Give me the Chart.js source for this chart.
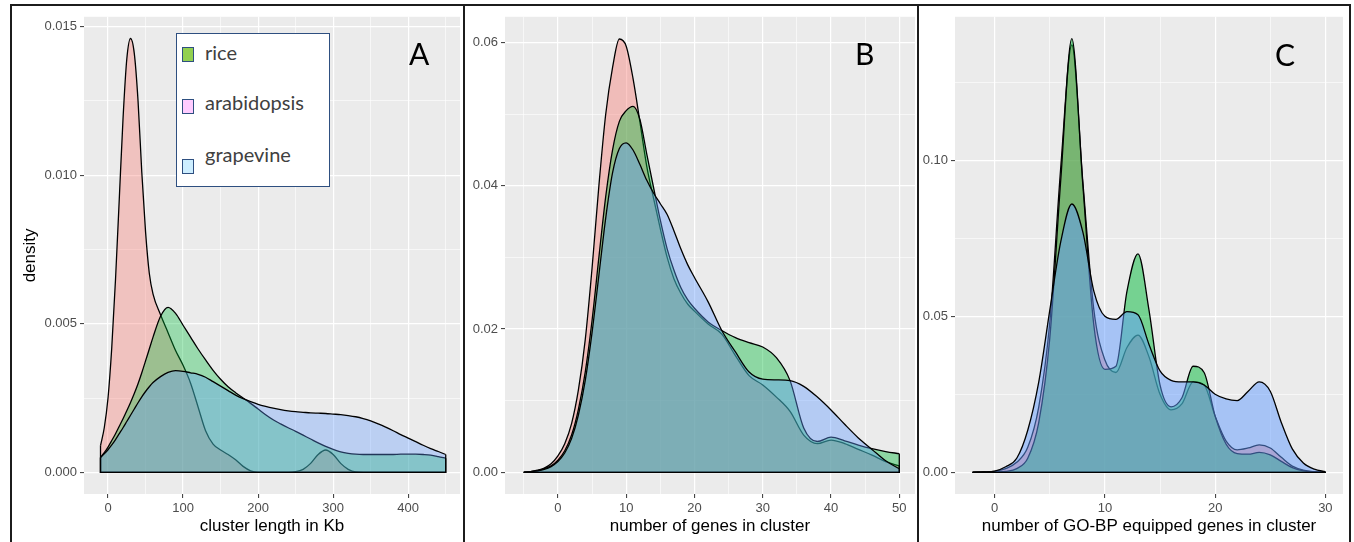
<!DOCTYPE html>
<html>
<head>
<meta charset="utf-8">
<script src="https://cdn.jsdelivr.net/npm/chart.js@4.4.1/dist/chart.umd.min.js"></script>
<style>
  body { margin: 0; width: 1354px; height: 542px; background: #fff; position: relative; overflow: hidden; }
  canvas { position: absolute; }
  .rule { position: absolute; background: #1c1c1c; }
  .letter { position: absolute; font-family: Lato, 'Open Sans', sans-serif; font-size: 30px; color: #000; line-height: 1; }
  #legend { position: absolute; left: 176px; top: 33px; width: 152px; height: 152px; border: 1.5px solid #2e4f80; background: #fff; font-family: Lato, 'Open Sans', sans-serif; font-size: 20px; color: #404040; }
  #legend .sw { position: absolute; left: 5px; width: 9.5px; height: 12.5px; border: 1.5px solid #2e4f80; }
  #legend .tx { position: absolute; left: 28px; line-height: 1; }
</style>
</head>
<body>
<div class="rule" style="left:10px;top:4px;width:1341px;height:2px"></div>
<div class="rule" style="left:10px;top:4px;width:2px;height:538px"></div>
<div class="rule" style="left:463px;top:4px;width:2px;height:538px"></div>
<div class="rule" style="left:917px;top:4px;width:2px;height:538px"></div>
<div class="rule" style="left:1349px;top:4px;width:2px;height:538px"></div>

<canvas id="chartA" width="450" height="536" style="left:12px;top:6px"></canvas>
<canvas id="chartB" width="450" height="536" style="left:466px;top:6px"></canvas>
<canvas id="chartC" width="430" height="536" style="left:920px;top:6px"></canvas>

<div id="legend">
  <div class="sw" style="top:13px;background:#92d050"></div><div class="tx" style="top:8px">rice</div>
  <div class="sw" style="top:65px;background:#ffccff"></div><div class="tx" style="top:58px">arabidopsis</div>
  <div class="sw" style="top:125px;background:#cdeeff"></div><div class="tx" style="top:110px">grapevine</div>
</div>
<div class="letter" style="left:409px;top:38px">A</div>
<div class="letter" style="left:855px;top:38px">B</div>
<div class="letter" style="left:1275px;top:39px">C</div>

<script>
// ---- panel A: cluster length in Kb ----
const xA = [-10, -5, 0, 5, 10, 15, 20, 25, 30, 35, 40, 45, 50, 55, 60,
  70, 80, 90, 100, 110, 120, 130, 140, 150, 160, 170, 180, 190, 200, 210, 220, 230, 240, 250,
  260, 270, 280, 290, 300, 310, 320, 330, 340, 350, 360, 370, 380, 390, 400, 410, 420, 430, 440, 450];
const arabidopsisA = [0.0009, 0.0015, 0.0025, 0.0042, 0.0065, 0.0092, 0.0119, 0.0139, 0.0146, 0.0141, 0.0125, 0.0101, 0.0081, 0.0067, 0.0060,
  0.0053, 0.0047, 0.0041, 0.0036, 0.0030, 0.0022, 0.0014, 0.00095, 0.00075, 0.0006, 0.00042, 0.0002, 0.00005, 0, 0, 0, 0, 0, 0.00002,
  0.0001, 0.0003, 0.0006, 0.00075, 0.0006, 0.0003, 0.0001, 0.00001, 0, 0, 0, 0, 0, 0, 0, 0, 0, 0, 0, 0];
const riceA = [0.0005, 0.00066, 0.00085, 0.00107, 0.0013, 0.00155, 0.0018, 0.00207, 0.00235, 0.00265, 0.00298, 0.00335, 0.00375, 0.00415, 0.00455,
  0.00525, 0.00555, 0.00535, 0.00495, 0.00455, 0.00415, 0.00378, 0.00343, 0.00313, 0.00288, 0.00268, 0.0025, 0.00232, 0.00213, 0.00194, 0.00177, 0.00163, 0.0015, 0.00138,
  0.00125, 0.00112, 0.00099, 0.00087, 0.00077, 0.00069, 0.00064, 0.00061, 0.0006, 0.0006, 0.0006, 0.0006, 0.0006, 0.00061, 0.00061, 0.00061, 0.0006, 0.00058, 0.00053, 0.00047];
const grapevineA = [0.0005, 0.00062, 0.00076, 0.00092, 0.0011, 0.0013, 0.0015, 0.00171, 0.00192, 0.00213, 0.00234, 0.00254, 0.00272, 0.00288, 0.00302,
  0.00322, 0.00336, 0.00342, 0.0034, 0.00335, 0.0033, 0.0032, 0.00305, 0.0029, 0.00275, 0.0026, 0.00248, 0.00238, 0.00229, 0.00222, 0.00216, 0.00211, 0.00207, 0.00204,
  0.00202, 0.002, 0.00199, 0.00198, 0.00196, 0.00194, 0.00191, 0.00187, 0.00181, 0.00173, 0.00163, 0.00152, 0.0014, 0.00127, 0.00115, 0.00103, 0.00091, 0.0008, 0.0007, 0.0006];

// ---- panel B: number of genes in cluster ----
const xB = [-5, -4, -3, -2, -1, 0, 1, 2, 3, 4, 5, 6, 7, 8, 9, 10, 11, 12, 13, 14, 15, 16, 17, 18, 19, 20,
  22, 24, 26, 28, 30, 32, 34, 36, 38, 40, 42, 44, 46, 48, 50];
const arabidopsisB = [0, 0.0001, 0.0003, 0.0006, 0.0012, 0.0023, 0.0040, 0.0068, 0.0115, 0.0185, 0.0285, 0.0400, 0.0500, 0.0565, 0.0605, 0.0595,
  0.0550, 0.0490, 0.0428, 0.0383, 0.0340, 0.0300, 0.0270, 0.0250, 0.0235, 0.0225,
  0.0207, 0.0193, 0.0163, 0.0135, 0.0122, 0.0105, 0.0085, 0.0052, 0.0040, 0.0045, 0.0040, 0.0032, 0.0024, 0.0015, 0.0009];
const riceB = [0, 0.0001, 0.0002, 0.0005, 0.0009, 0.0017, 0.0030, 0.0052, 0.0088, 0.0140, 0.0212, 0.0300, 0.0385, 0.0450, 0.0490, 0.0505,
  0.0511, 0.0493, 0.0445, 0.0398, 0.0352, 0.0312, 0.0282, 0.0258, 0.0241, 0.0229,
  0.0210, 0.0198, 0.0188, 0.0181, 0.0175, 0.0160, 0.0128, 0.0062, 0.0043, 0.0049, 0.0044, 0.0038, 0.0033, 0.0029, 0.0026];
const grapevineB = [0, 0.0001, 0.0002, 0.0004, 0.0008, 0.0015, 0.0027, 0.0047, 0.0080, 0.0128, 0.0195, 0.0275, 0.0355, 0.0418, 0.0452, 0.0460,
  0.0450, 0.0430, 0.0408, 0.0390, 0.0375, 0.0360, 0.0337, 0.0312, 0.0290, 0.0272,
  0.0238, 0.0198, 0.0168, 0.0140, 0.0130, 0.0129, 0.0128, 0.0120, 0.0105, 0.0087, 0.0067, 0.0048, 0.0032, 0.0016, 0.0005];

// ---- panel C: number of GO-BP equipped genes in cluster ----
const xC = [-2, -1, 0, 1, 2, 3, 4, 5, 6, 7, 8, 9, 10, 11, 12, 13, 14, 15, 16, 17, 18, 19, 20, 21, 22, 23, 24, 25, 26, 27, 28, 29, 30];
const arabidopsisC = [0, 0.0001, 0.0003, 0.0012, 0.0032, 0.008, 0.021, 0.048, 0.098, 0.137, 0.093, 0.052, 0.036, 0.032, 0.040, 0.044, 0.037, 0.025, 0.020, 0.022, 0.029, 0.028, 0.018, 0.010, 0.0072, 0.0078, 0.0088, 0.0078, 0.0048, 0.002, 0.0007, 0.0002, 0];
const riceC = [0, 0, 0.0001, 0.0003, 0.0012, 0.0045, 0.016, 0.043, 0.094, 0.139, 0.092, 0.047, 0.033, 0.034, 0.058, 0.070, 0.052, 0.028, 0.021, 0.024, 0.034, 0.032, 0.018, 0.009, 0.006, 0.0058, 0.0064, 0.0056, 0.0035, 0.0015, 0.0005, 0.0001, 0];
const grapevineC = [0, 0.0001, 0.0004, 0.0018, 0.0045, 0.0135, 0.029, 0.052, 0.074, 0.086, 0.077, 0.058, 0.050, 0.049, 0.0515, 0.0505, 0.041, 0.0325, 0.0295, 0.029, 0.029, 0.028, 0.025, 0.0235, 0.023, 0.026, 0.029, 0.026, 0.016, 0.0075, 0.003, 0.001, 0.0002];

// axis breaks (major carry labels, minor are grid only)
const xMajorA = [0, 100, 200, 300, 400], xMinorA = [50, 150, 250, 350, 450];
const yMajorA = [0, 0.005, 0.010, 0.015], yMinorA = [0.0025, 0.0075, 0.0125];
const xMajorB = [0, 10, 20, 30, 40, 50], xMinorB = [-5, 5, 15, 25, 35, 45];
const yMajorB = [0, 0.02, 0.04, 0.06], yMinorB = [0.01, 0.03, 0.05];
const xMajorC = [0, 10, 20, 30], xMinorC = [5, 15, 25];
const yMajorC = [0, 0.05, 0.10], yMinorC = [0.025, 0.075, 0.125];

const fillColors = ['248,118,109', '0,186,56', '97,156,255'];
const outlineWidth = 1.3;

// grey ggplot panel
const panelBg = {
  id: 'panelBg',
  beforeDraw(chart) {
    const a = chart.chartArea;
    chart.ctx.save();
    chart.ctx.fillStyle = '#ebebeb';
    chart.ctx.fillRect(a.left, a.top, a.right - a.left, a.bottom - a.top);
    chart.ctx.restore();
  }
};

// close each density polygon (ends + baseline) like geom_density
const closeOutline = {
  id: 'closeOutline',
  afterDatasetDraw(chart, args) {
    const pts = args.meta.data;
    if (!pts.length) return;
    const ctx = chart.ctx;
    const y0 = chart.scales.y.getPixelForValue(0);
    const first = pts[0], last = pts[pts.length - 1];
    ctx.save();
    ctx.strokeStyle = '#000';
    ctx.lineWidth = outlineWidth;
    ctx.beginPath();
    ctx.moveTo(first.x, first.y);
    ctx.lineTo(first.x, y0);
    ctx.lineTo(last.x, y0);
    ctx.lineTo(last.x, last.y);
    ctx.stroke();
    ctx.restore();
  }
};

function breaks(major, minor) {
  return function(scale) {
    scale.ticks = major.concat(minor).sort((a, b) => a - b).map(v => ({ value: v }));
  };
}

function axis(opts) {
  const isMajor = v => opts.major.includes(v);
  return {
    type: 'linear',
    min: opts.min,
    max: opts.max,
    afterBuildTicks: breaks(opts.major, opts.minor),
    afterFit: opts.fit,
    border: { display: false },
    grid: {
      color: '#ffffff',
      lineWidth: c => (c.tick && isMajor(c.tick.value)) ? 1.2 : 0.6,
      drawTicks: true,
      tickLength: 4,
      tickWidth: 1,
      tickColor: c => (c.tick && isMajor(c.tick.value)) ? '#333333' : 'rgba(0,0,0,0)'
    },
    ticks: {
      autoSkip: false,
      maxRotation: 0,
      padding: opts.pad,
      color: '#4d4d4d',
      font: { family: "'Liberation Sans', Arial, sans-serif", size: 13 },
      callback: v => isMajor(v) ? opts.fmt(v) : ''
    },
    title: opts.title ? {
      display: true,
      text: opts.title,
      color: '#000',
      font: { family: "'Liberation Sans', Arial, sans-serif", size: 17 },
      padding: opts.titlePad
    } : { display: false }
  };
}

function densityChart(id, xs, series, alpha, xOpts, yOpts, pad) {
  const names = ['arabidopsis', 'rice', 'grapevine'];
  new Chart(document.getElementById(id), {
    type: 'line',
    data: {
      datasets: series.map((ys, i) => ({
        label: names[i],
        data: xs.map((x, j) => ({ x: x, y: ys[j] })),
        order: 3 - i,
        fill: 'origin',
        backgroundColor: 'rgba(' + fillColors[i] + ',' + alpha + ')',
        borderColor: '#000',
        borderWidth: outlineWidth,
        pointRadius: 0,
        cubicInterpolationMode: 'monotone'
      }))
    },
    options: {
      responsive: false,
      animation: false,
      devicePixelRatio: 1,
      layout: { padding: pad },
      plugins: { legend: { display: false }, tooltip: { enabled: false } },
      scales: { x: axis(xOpts), y: axis(yOpts) }
    },
    plugins: [panelBg, closeOutline]
  });
}

densityChart('chartA', xA, [arabidopsisA, riceA, grapevineA], 0.35,
  { min: -32, max: 469, major: xMajorA, minor: xMinorA, fmt: v => String(v), pad: 3,
    title: 'cluster length in Kb', titlePad: { bottom: 5 }, fit: s => { s.height = 48; } },
  { min: -0.00073, max: 0.01533, major: yMajorA, minor: yMinorA, fmt: v => v.toFixed(3), pad: 3,
    title: 'density', titlePad: { top: 8 }, fit: s => { s.width = 72; } },
  { top: 7, right: 2, left: 0, bottom: 0 });

densityChart('chartB', xB, [arabidopsisB, riceB, grapevineB], 0.4,
  { min: -7.75, max: 52.3, major: xMajorB, minor: xMinorB, fmt: v => String(v), pad: 3,
    title: 'number of genes in cluster', titlePad: { bottom: 5 }, fit: s => { s.height = 48; } },
  { min: -0.00303, max: 0.0636, major: yMajorB, minor: yMinorB, fmt: v => v.toFixed(2), pad: 3,
    title: null, fit: s => { s.width = 39; } },
  { top: 7, right: 1, left: 0, bottom: 0 });

densityChart('chartC', xC, [arabidopsisC, riceC, grapevineC], 0.5,
  { min: -3.6, max: 31.6, major: xMajorC, minor: xMinorC, fmt: v => String(v), pad: 3,
    title: 'number of GO-BP equipped genes in cluster', titlePad: { bottom: 5 }, fit: s => { s.height = 48; } },
  { min: -0.00695, max: 0.146, major: yMajorC, minor: yMinorC, fmt: v => v.toFixed(2), pad: 3,
    title: null, fit: s => { s.width = 35; } },
  { top: 7, right: 7, left: 0, bottom: 0 });
</script>
</body>
</html>
